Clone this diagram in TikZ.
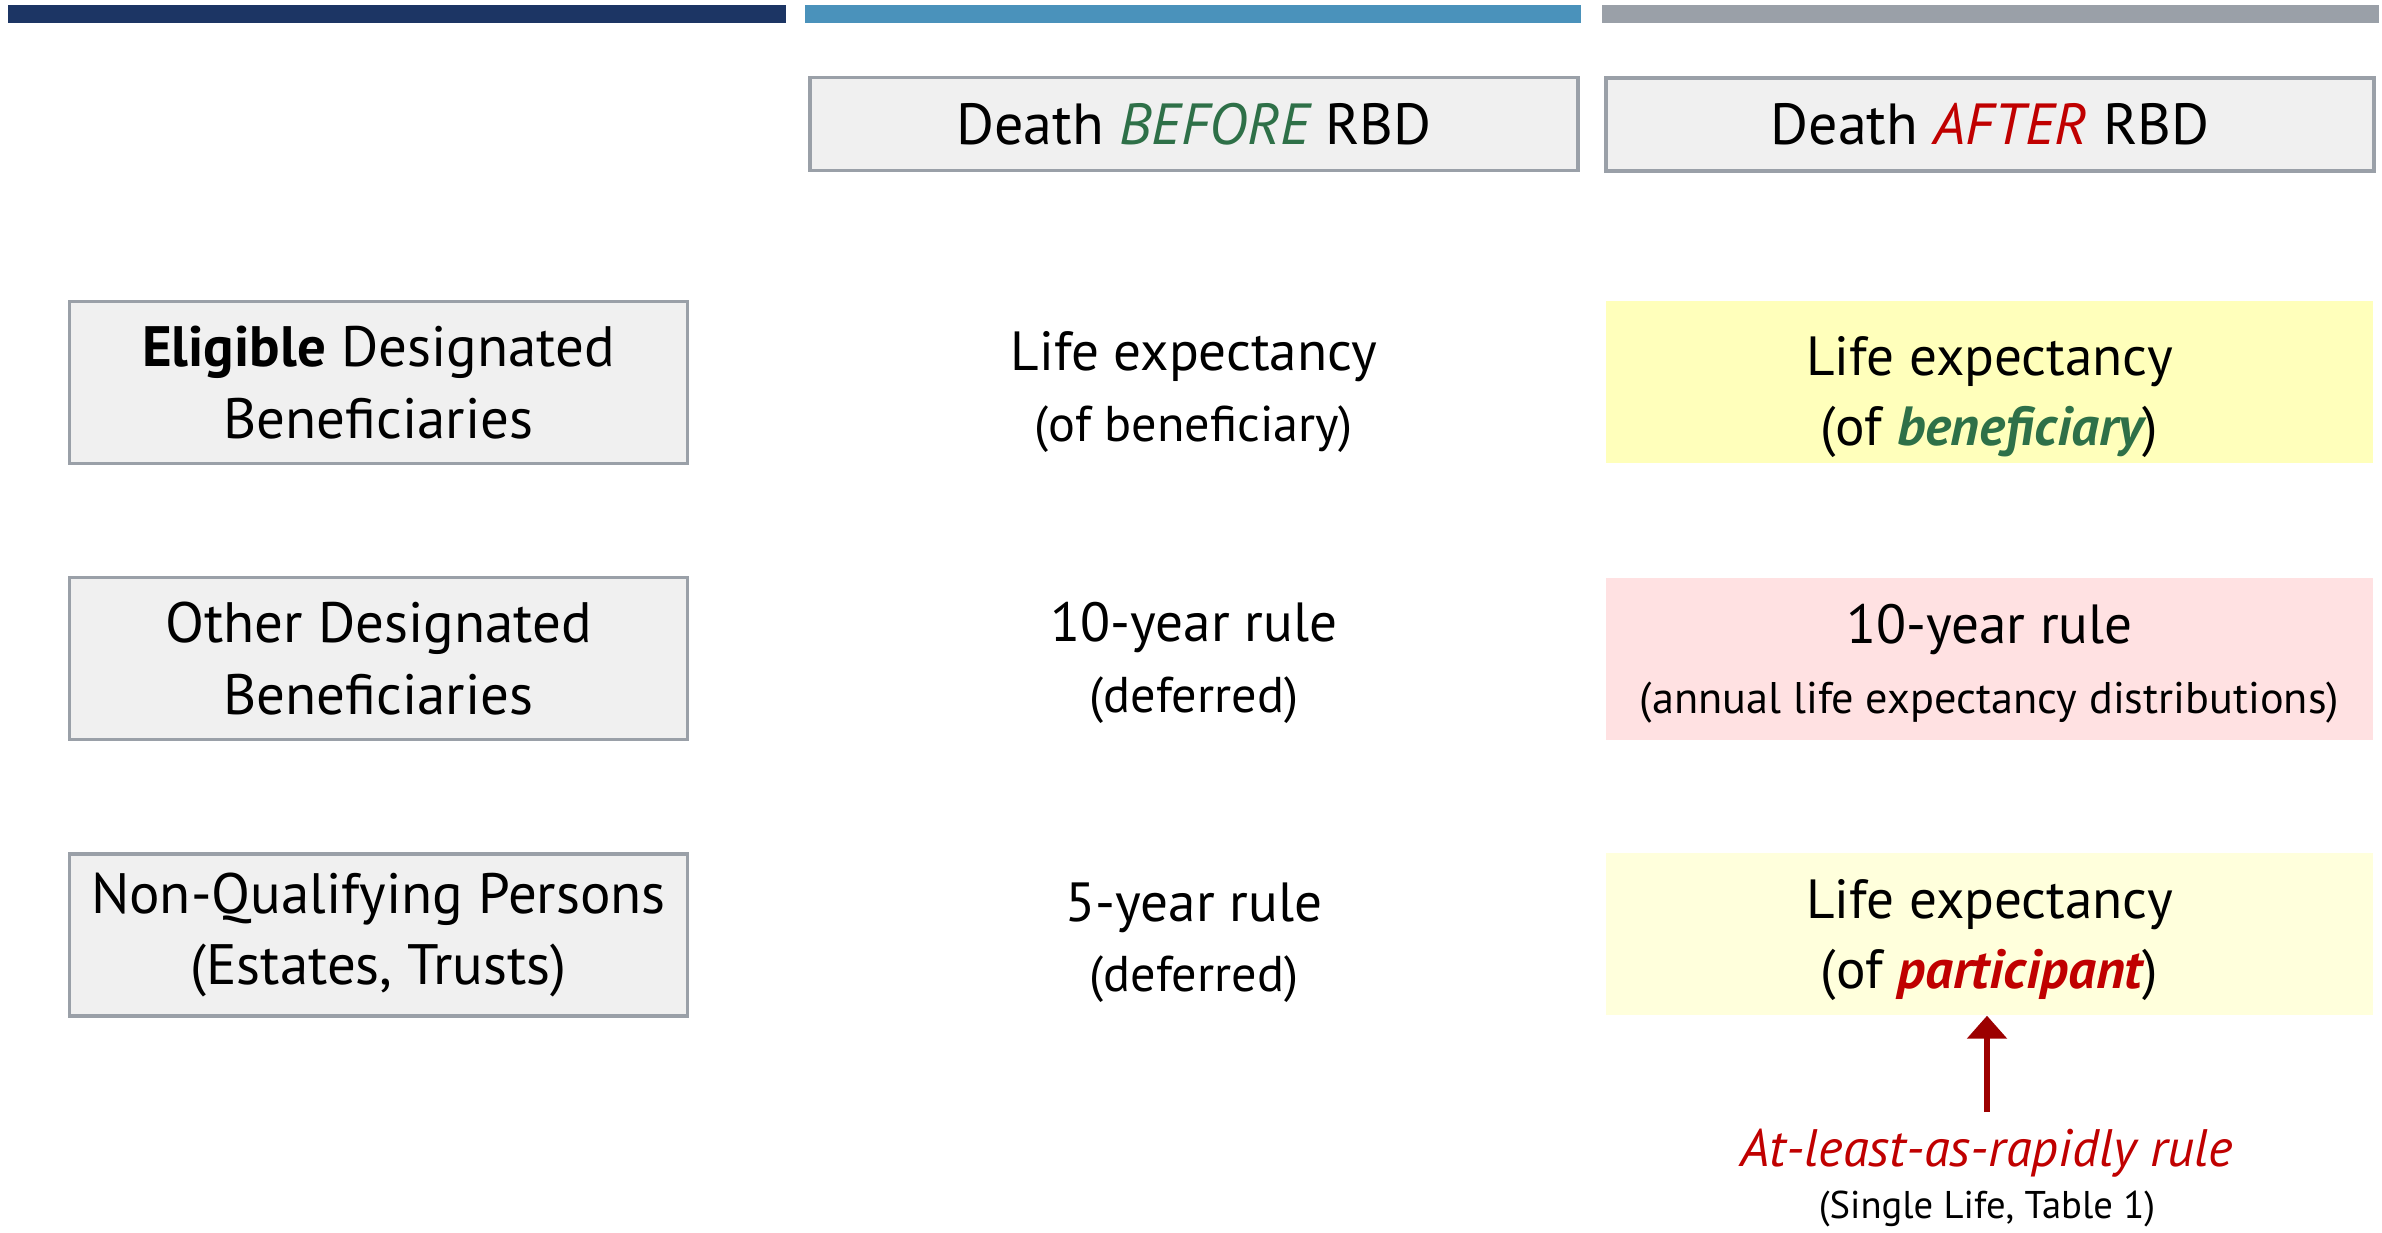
\documentclass[tikz,border=0pt]{standalone}
\usepackage{fontspec}
\setmainfont{PT Sans}
\usetikzlibrary{arrows.meta}
\definecolor{barnavy}{HTML}{1C3564}
\definecolor{barblue}{HTML}{4A92BB}
\definecolor{bargray}{HTML}{9AA0A8}
\definecolor{boxfill}{HTML}{F0F0F0}
\definecolor{boxline}{HTML}{9AA0A8}
\definecolor{keepgreen}{HTML}{2E7048}
\definecolor{lossred}{HTML}{C00000}
\definecolor{arrowred}{HTML}{9C0000}
\definecolor{paleyellow}{HTML}{FFFFBB}
\definecolor{lightyellow}{HTML}{FFFFDC}
\definecolor{palepink}{HTML}{FFE1E2}
\newcommand{\mainsz}{\fontsize{15.7}{20}\selectfont}
\newcommand{\catsz}{\fontsize{16.2}{20.3}\selectfont}
\newcommand{\subsz}{\fontsize{14.3}{19}\selectfont}
\newcommand{\smallsub}{\fontsize{12.6}{19}\selectfont}
\begin{document}
\begin{tikzpicture}[
  hdrbox/.style={draw=boxline, line width=0.9pt, fill=boxfill, minimum width=7.68cm, minimum height=0.93cm, font=\fontsize{16.5}{20}\selectfont},
  catbox/.style={draw=boxline, line width=0.9pt, fill=boxfill, minimum width=6.18cm, minimum height=1.62cm, align=center, font=\catsz},
  rulebox/.style={minimum width=7.67cm, minimum height=1.62cm},
  ruletxt/.style={align=center, font=\mainsz}]
\useasboundingbox (0,0) rectangle (23.82,-12.33);
% top bars
\fill[barnavy] (0.08,-0.05) rectangle (7.86,-0.23);
\fill[barblue] (8.05,-0.05) rectangle (15.81,-0.23);
\fill[bargray] (16.02,-0.05) rectangle (23.79,-0.23);
% column heads
\node[hdrbox] (before) at (11.94,-1.24) {Death \textcolor{keepgreen}{\itshape BEFORE} RBD};
\node[hdrbox] (after) at (19.90,-1.245) {Death \textcolor{lossred}{\itshape AFTER} RBD};
% beneficiary classes
\node[catbox] (eligible) at (3.785,-3.825) {\textbf{Eligible} Designated\\Beneficiaries};
\node[catbox] (other) at (3.785,-6.585) {Other Designated\\Beneficiaries};
\node[catbox] (nonq) at (3.785,-9.35) {Non-Qualifying Persons\\(Estates, Trusts)};
% before RBD
\node[ruletxt] (bElig) at (11.94,-3.92) {Life expectancy\\{\subsz(of beneficiary)}};
\node[ruletxt] (bOther) at (11.94,-6.63) {10-year rule\\{\subsz(deferred)}};
\node[ruletxt] (bNonq) at (11.94,-9.43) {5-year rule\\{\subsz(deferred)}};
% after RBD
\node[rulebox, fill=paleyellow] (aElig) at (19.895,-3.82) {};
\node[rulebox, fill=palepink] (aOther) at (19.895,-6.585) {};
\node[rulebox, fill=lightyellow] (aNonq) at (19.895,-9.34) {};
\node[ruletxt] (aEligTxt) at ([yshift=-0.15cm]aElig.center) {Life expectancy\\(of \textcolor{keepgreen}{\bfseries\itshape beneficiary})};
\node[ruletxt] (aOtherTxt) at ([yshift=-0.05cm]aOther.center) {10-year rule\\{\smallsub(annual life expectancy distributions)}};
\node[ruletxt] (aNonqTxt) at ([yshift=-0.06cm]aNonq.center) {Life expectancy\\(of \textcolor{lossred}{\bfseries\itshape participant})};
\node[font=\fontsize{15}{18}\selectfont\itshape, text=lossred] (rapid) at (19.87,-11.53) {At-least-as-rapidly rule};
\node[font=\fontsize{11}{13}\selectfont] (single) at (19.87,-12.09) {(Single Life, Table 1)};
\coordinate (tail) at (19.87,-11.12);
\draw[arrowred, line width=1.7pt, -{Triangle[length=0.23cm, width=0.39cm]}] (tail) -- (aNonq.south -| tail);
\end{tikzpicture}
\end{document}
